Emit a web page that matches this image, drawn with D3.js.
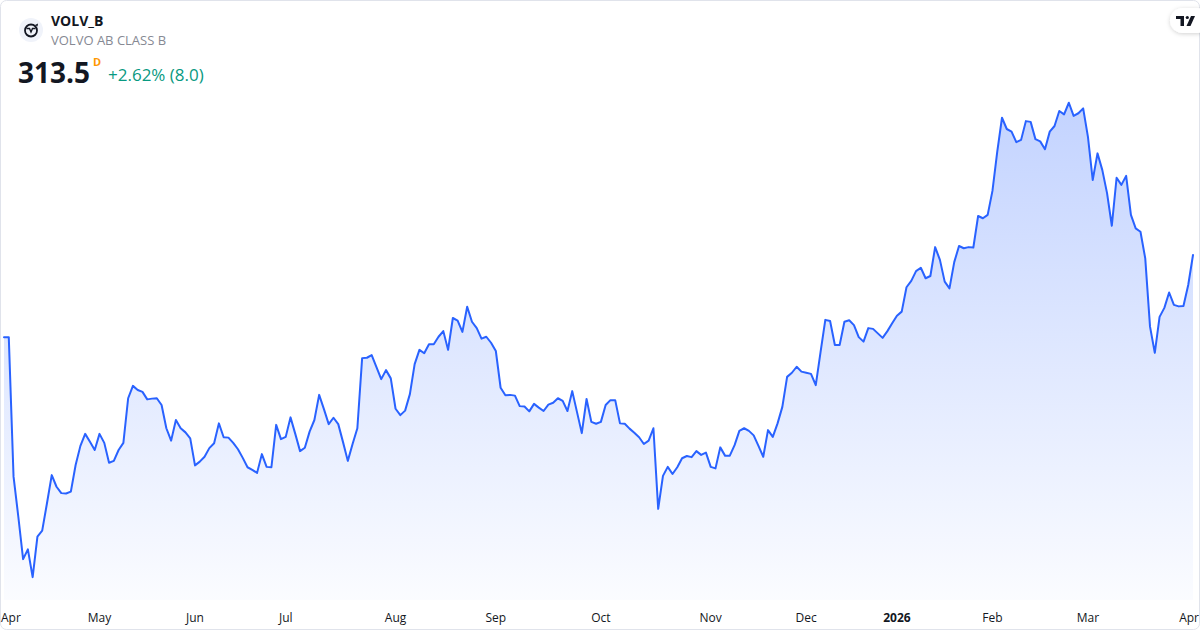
<!DOCTYPE html>
<html>
<head>
<meta charset="utf-8">
<script src="https://cdn.jsdelivr.net/npm/d3@7"></script>
<style>
  html, body { margin: 0; padding: 0; background: #ffffff; }
  svg { display: block; font-family: "Open Sans", "Noto Sans", sans-serif; }
</style>
</head>
<body>
<svg id="chart" width="1200" height="630"></svg>
<script>
// ---- data (daily closes, SEK) ----
const symbol = "VOLV_B";
const companyName = "VOLVO AB CLASS B";
const lastPrice = "313.5";
const changeText = "+2.62% (8.0)";
const intervalLabel = "D";

const closes = [
  291.6, 291.6, 254.4, 243.7, 232.4, 235.0, 227.6, 238.4, 240.0, 247.3,
  254.8, 251.7, 250.0, 249.9, 250.4, 257.5, 262.6, 265.8, 263.7, 261.5,
  265.8, 263.4, 258.1, 258.6, 261.5, 263.4, 275.3, 278.6, 277.5, 277.0,
  275.0, 275.2, 275.3, 273.5, 267.3, 264.0, 269.5, 267.3, 266.2, 264.6,
  257.4, 258.4, 259.7, 262.0, 263.3, 268.6, 264.9, 264.8, 263.4, 261.7,
  259.4, 256.9, 256.2, 255.4, 260.4, 257.0, 256.9, 268.2, 264.4, 265.0,
  270.2, 265.8, 261.2, 262.1, 266.4, 269.5, 276.2, 272.4, 268.4, 270.1,
  268.4, 263.6, 258.6, 263.1, 267.3, 286.0, 286.1, 286.8, 283.6, 280.4,
  282.8, 280.6, 272.5, 270.8, 272.0, 276.4, 284.4, 288.2, 287.3, 289.7,
  289.7, 291.7, 293.2, 288.2, 296.7, 296.0, 293.0, 299.7, 295.7, 294.0,
  291.2, 291.7, 290.1, 287.9, 278.1, 276.1, 276.2, 276.0, 273.2, 273.1,
  271.8, 273.8, 272.8, 271.9, 273.6, 274.1, 275.3, 274.6, 271.9, 277.2,
  271.6, 266.0, 275.1, 269.0, 268.5, 269.0, 273.5, 274.8, 274.8, 268.6,
  268.5, 267.2, 266.1, 264.9, 263.1, 264.0, 267.3, 245.8, 254.6, 257.0,
  255.1, 256.9, 259.3, 259.9, 259.6, 261.2, 260.2, 260.8, 257.0, 256.6,
  262.2, 260.0, 260.0, 262.8, 266.6, 267.3, 266.6, 265.4, 262.6, 259.7,
  266.8, 265.0, 268.6, 273.0, 281.0, 282.1, 283.7, 282.4, 282.1, 281.8,
  278.8, 287.6, 296.2, 295.9, 289.5, 289.5, 295.7, 296.1, 294.8, 291.6,
  290.4, 294.0, 293.8, 292.6, 291.4, 293.2, 295.3, 297.3, 298.4, 304.9,
  306.6, 309.2, 310.1, 307.3, 307.9, 315.6, 312.2, 306.4, 304.6, 311.6,
  315.9, 315.3, 315.6, 315.5, 323.9, 323.3, 324.2, 330.6, 341.0, 350.1,
  347.1, 346.4, 343.6, 344.2, 349.2, 349.0, 344.4, 343.8, 341.7, 346.4,
  347.9, 351.9, 351.0, 354.1, 350.6, 351.3, 352.6, 345.0, 333.5, 340.6,
  336.2, 330.0, 321.3, 334.1, 332.2, 334.6, 324.2, 320.6, 319.7, 312.6,
  294.4, 287.4, 297.0, 299.4, 303.5, 300.2, 299.8, 299.9, 305.5, 313.5
];

// month labels placed at the first trading day of each month (index into closes)
const tickLabels = ["Apr", "May", "Jun", "Jul", "Aug", "Sep", "Oct", "Nov", "Dec", "2026", "Feb", "Mar", "Apr"];
const tickIndex  = [0, 20, 40, 59, 82, 103, 125, 148, 168, 187, 207, 227, 249];
const tickBold   = [false, false, false, false, false, false, false, false, false, true, false, false, false];

// ---- drawing ----
const W = 1200, H = 630;
const svg = d3.select("#chart");
const lineColor = "#2962ff";

const x = d3.scaleLinear().domain([0, closes.length - 1]).range([4, 1193]);
const y = d3.scaleLinear().domain([200, 370]).range([255 + 113.5 * 3.75, 255 - 56.5 * 3.75]);
const paneBottom = 600;

const defs = svg.append("defs");
const grad = defs.append("linearGradient")
  .attr("id", "areaGrad").attr("gradientUnits", "userSpaceOnUse")
  .attr("x1", 0).attr("x2", 0)
  .attr("y1", y(d3.max(closes))).attr("y2", paneBottom);
grad.append("stop").attr("offset", "0%").attr("stop-color", lineColor).attr("stop-opacity", 0.28);
grad.append("stop").attr("offset", "100%").attr("stop-color", lineColor).attr("stop-opacity", 0.02);

const filter = defs.append("filter").attr("id", "shadow").attr("x", "-50%").attr("y", "-50%").attr("width", "200%").attr("height", "200%");
filter.append("feDropShadow").attr("dx", 0).attr("dy", 1).attr("stdDeviation", 2).attr("flood-color", "#000").attr("flood-opacity", 0.18);

// frame
svg.append("rect").attr("x", 0.5).attr("y", 0.5).attr("width", W - 1).attr("height", H - 1)
  .attr("rx", 6).attr("fill", "#ffffff").attr("stroke", "#e0e3eb");

const area = d3.area()
  .x((d, i) => x(i)).y0(paneBottom).y1(d => y(d));
const line = d3.line()
  .x((d, i) => x(i)).y(d => y(d));

svg.append("path").datum(closes).attr("d", area).attr("fill", "url(#areaGrad)");
svg.append("path").datum(closes).attr("d", line)
  .attr("fill", "none").attr("stroke", lineColor).attr("stroke-width", 2)
  .attr("stroke-linejoin", "round").attr("stroke-linecap", "round");

// x axis labels
const labels = svg.append("g").attr("font-size", 12).attr("fill", "#131722");
tickLabels.forEach((t, k) => {
  let cx = x(tickIndex[k]);
  let anchor = "middle";
  if (k === 0) { cx = 1; anchor = "start"; }
  if (k === tickLabels.length - 1) { cx = 1199; anchor = "end"; }
  labels.append("text")
    .attr("x", cx).attr("y", 622)
    .attr("text-anchor", anchor)
    .attr("font-weight", tickBold[k] ? 700 : 400)
    .text(t);
});

// header
const hdr = svg.append("g");
hdr.append("circle").attr("cx", 31).attr("cy", 30).attr("r", 12).attr("fill", "#f0f3fa");
hdr.append("circle").attr("cx", 31).attr("cy", 30.5).attr("r", 6).attr("fill", "none").attr("stroke", "#131722").attr("stroke-width", 1.8);
hdr.append("path").attr("d", "M26.5 28.5 L29.5 28.5 L31 32 L32.5 28.5 L35.5 28.5").attr("fill", "none").attr("stroke", "#131722").attr("stroke-width", 1.4);
hdr.append("path").attr("d", "M35 25 L38 23.5 L37.5 26.5 Z").attr("fill", "#131722");

hdr.append("text").attr("x", 51).attr("y", 26).attr("font-size", 14).attr("font-weight", 700).attr("fill", "#131722").text(symbol);
hdr.append("text").attr("x", 51).attr("y", 45).attr("font-size", 13).attr("fill", "#868993").text(companyName);
hdr.append("text").attr("x", 18).attr("y", 83).attr("font-size", 28).attr("font-weight", 700).attr("fill", "#131722").text(lastPrice);
hdr.append("text").attr("x", 93).attr("y", 66).attr("font-size", 11).attr("font-weight", 700).attr("fill", "#ff9800").text(intervalLabel);
hdr.append("text").attr("x", 108).attr("y", 81).attr("font-size", 17).attr("fill", "#089981").text(changeText);

// TradingView badge
const tv = svg.append("g");
tv.append("rect").attr("x", 1170).attr("y", 8).attr("width", 40).attr("height", 25).attr("rx", 12.5)
  .attr("fill", "#ffffff").attr("filter", "url(#shadow)");
tv.append("path").attr("d", "M1176 16 L1184 16 L1184 26 L1180.5 26 L1180.5 19 L1176 19 Z").attr("fill", "#131722");
tv.append("circle").attr("cx", 1187.3).attr("cy", 17.5).attr("r", 1.6).attr("fill", "#131722");
tv.append("path").attr("d", "M1191 16 L1195 16 L1190.5 26 L1186.5 26 Z").attr("fill", "#131722");
</script>
</body>
</html>
